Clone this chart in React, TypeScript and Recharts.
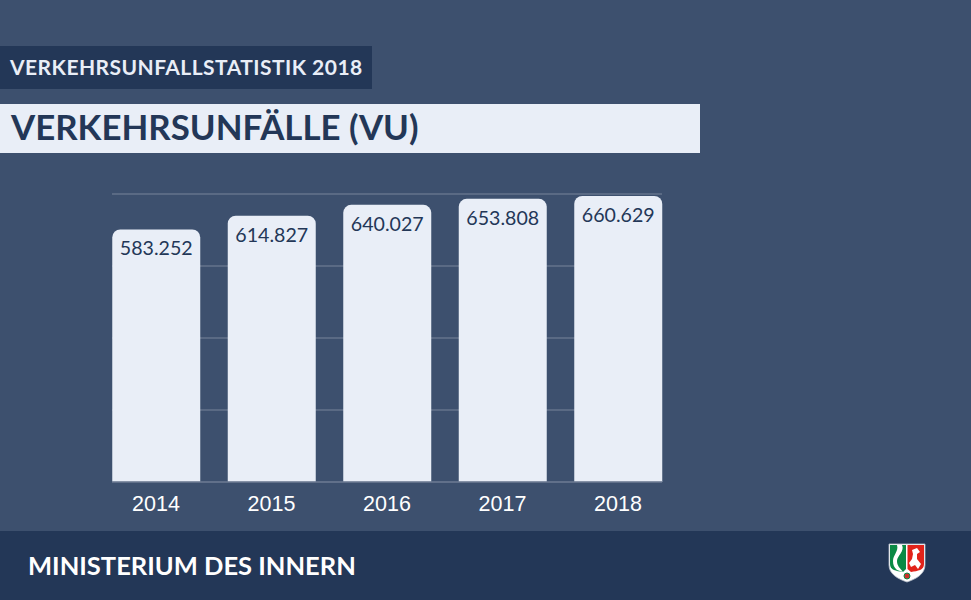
import React from "react";
import { BarChart, Bar, XAxis, YAxis, CartesianGrid, LabelList } from "recharts";

const years = ["2014", "2015", "2016", "2017", "2018"];
const accidents = [583252, 614827, 640027, 653808, 660629];
const yTicks = [0, 166250, 332500, 498750, 665000];
const rows = years.map((year, i) => ({ year, accidents: accidents[i] }));

const BG = "#3d506e";
const DARK = "#233757";
const LIGHT = "#e9eef7";
const GRID = "#64738d";
const fmt = (v: number) => String(v).replace(/(\d)(\d{3})$/, "$1.$2");

export default function App() {
  return (
    <div style={{ position: "fixed", left: 0, top: 0, width: 971, height: 600, background: BG, overflow: "hidden" }}>
      <div style={{ position: "absolute", left: 0, top: 46, width: 372, height: 43, background: DARK, color: LIGHT, fontFamily: "Lato", fontWeight: 700, fontSize: 21, letterSpacing: 0.46, lineHeight: "41px", paddingLeft: 10, boxSizing: "border-box", whiteSpace: "nowrap" }}>VERKEHRSUNFALLSTATISTIK 2018</div>
      <div style={{ position: "absolute", left: 0, top: 104, width: 700, height: 49, background: LIGHT, color: DARK, fontFamily: "Lato", fontWeight: 700, fontSize: 34.85, lineHeight: "46px", paddingLeft: 11, boxSizing: "border-box", whiteSpace: "nowrap" }}>VERKEHRSUNFÄLLE (VU)</div>
      <div style={{ position: "absolute", left: 0, top: 0 }}>
        <BarChart width={971} height={531} data={rows} margin={{ left: 112, right: 309, top: 194, bottom: 19 }}>
          <CartesianGrid horizontal vertical={false} stroke={GRID} strokeWidth={1.5} />
          <YAxis hide domain={[0, 665000]} ticks={yTicks} />
          <XAxis dataKey="year" scale="point" padding={{ left: 44, right: 44 }} axisLine={{ stroke: GRID, strokeWidth: 1.5 }} tickLine={false} tickMargin={8}
            tick={{ fill: "#ffffff", fontFamily: "Liberation Sans", fontSize: 21.5 }} />
          <Bar dataKey="accidents" barSize={88} fill={LIGHT} radius={[8, 8, 0, 0]} isAnimationActive={false}>
            <LabelList dataKey="accidents" position="insideTop" offset={12} formatter={fmt as any}
              style={{ fill: DARK, fontFamily: "Lato", fontSize: 19.6 }} />
          </Bar>
        </BarChart>
      </div>
      <div style={{ position: "absolute", left: 0, top: 531, width: 971, height: 69, background: DARK }}>
        <div style={{ position: "absolute", left: 28, top: 0, color: "#ffffff", fontFamily: "Lato", fontWeight: 700, fontSize: 25.5, lineHeight: "69px", whiteSpace: "nowrap" }}>MINISTERIUM DES INNERN</div>
        <svg style={{ position: "absolute", left: 888, top: 12 }} width={38} height={40} viewBox="0 0 38 40">
          <path d="M1 1H37V22C37 31 28 36 19 39C10 36 1 31 1 22Z" fill="#ffffff" stroke="#b9c0cc" strokeWidth={0.8} />
          <path d="M2 2H18V26L15 29C8 28 2 27 2 21Z" fill="#0a8a45" />
          <path d="M19.5 2H36V21C36 27 30 28 23 29L19.5 26Z" fill="#e2231a" />
          <path d="M14 2C17 8 9 13 9 18C9 23 12 25 15 29L9 27C6 24 5 22 5 18C5 12 11 8 9 2Z" fill="#ffffff" />
          <path d="M24 7L29 5L32 9L29 11L29 16L33 21L30 26L27 22L23 24L21 20L24 16L25 11Z" fill="#ffffff" />
          <circle cx="19" cy="33" r="3" fill="#c8302a" stroke="#0a8a45" strokeWidth={1} />
        </svg>
      </div>
    </div>
  );
}
